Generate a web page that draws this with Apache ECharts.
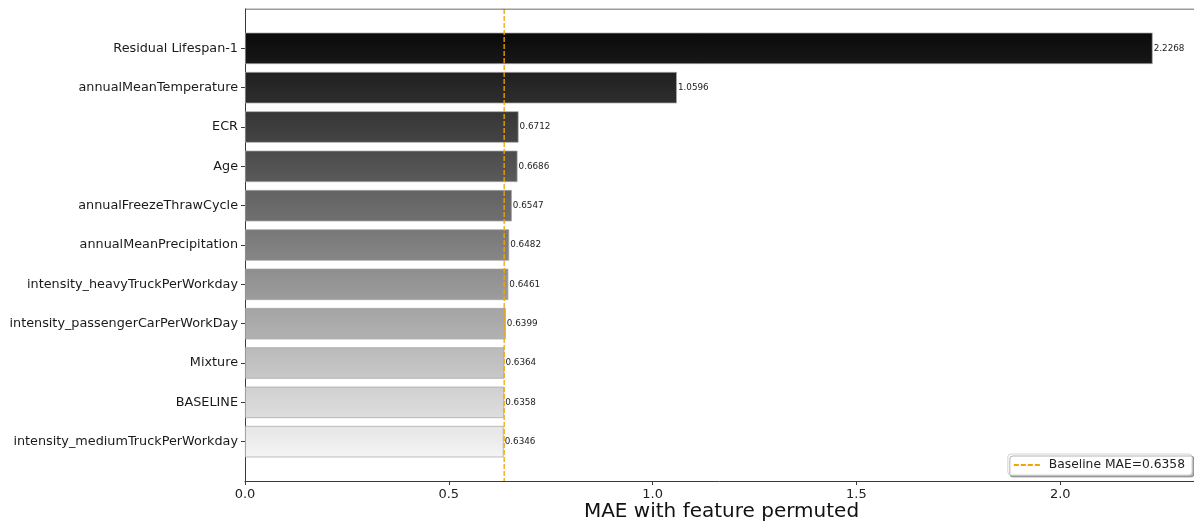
<!DOCTYPE html>
<html>
<head>
<meta charset="utf-8">
<title>Permutation importance (MAE)</title>
<script src="https://cdn.jsdelivr.net/npm/echarts@6/dist/echarts.min.js"></script>
<style>
  html, body { margin: 0; padding: 0; background: #fff; }
  #chart { width: 1194px; height: 527px; }
</style>
</head>
<body>
<div id="chart"></div>
<script>
// Features, ordered from the largest MAE (top) to the smallest (bottom)
const categories = [
  'Residual Lifespan-1',
  'annualMeanTemperature',
  'ECR',
  'Age',
  'annualFreezeThrawCycle',
  'annualMeanPrecipitation',
  'intensity_heavyTruckPerWorkday',
  'intensity_passengerCarPerWorkDay',
  'Mixture',
  'BASELINE',
  'intensity_mediumTruckPerWorkday'
];
// MAE with each feature permuted
const maeValues = [2.2268, 1.0596, 0.6712, 0.6686, 0.6547, 0.6482, 0.6461, 0.6399, 0.6364, 0.6358, 0.6346];
// Reference error of the unpermuted model
const baselineMae = 0.6358;
const xTicks = [0, 0.5, 1.0, 1.5, 2.0];

const FONT = 'DejaVu Sans';
const n = categories.length;
const X_MAX = 2.338;

// One empty slot above and below the bars leaves the padding around them
const axisCats = [''].concat(categories, ['']);
const barData = [null].concat(maeValues.map((v, i) => {
  // greyscale ramp from near-black at the top to near-white at the bottom
  const g = Math.round(18 + (238 - 18) * i / (n - 1));
  const top = Math.max(0, g - 8), bot = Math.min(255, g + 6);
  const c = x => 'rgb(' + x + ',' + x + ',' + x + ')';
  return {
    value: v,
    itemStyle: {
      color: new echarts.graphic.LinearGradient(0, 0, 0, 1, [
        { offset: 0, color: c(top) },
        { offset: 1, color: c(bot) }
      ])
    }
  };
}), [null]);

const chart = echarts.init(document.getElementById('chart'), null, { renderer: 'canvas' });

const axisColor = '#3a3a3a';
const baseColor = '#f2a400';
chart.setOption({
  animation: false,
  backgroundColor: '#fff',
  // the frame runs slightly past the right edge of the canvas
  grid: { left: 245, top: 9, width: 953, height: 472, containLabel: false, outerBoundsMode: 'none' },
  legend: {
    data: ['Baseline MAE=' + baselineMae],
    right: 2,
    bottom: 52,
    orient: 'vertical',
    itemWidth: 26,
    itemHeight: 12,
    itemGap: 0,
    padding: [5, 7, 4, 5],
    itemStyle: { color: 'transparent', borderWidth: 0 },
    backgroundColor: '#fff',
    borderColor: '#d4d4d4',
    borderWidth: 1,
    borderRadius: 3,
    shadowColor: 'rgba(0,0,0,0.3)',
    shadowOffsetX: 2,
    shadowOffsetY: 2,
    shadowBlur: 0,
    textStyle: { fontFamily: FONT, fontSize: 12.3, color: '#222', padding: [0, 0, 0, 4] }
  },
  xAxis: {
    type: 'value',
    min: 0,
    max: X_MAX,
    interval: 0.5,
    position: 'bottom',
    name: 'MAE with feature permuted',
    nameLocation: 'middle',
    nameGap: 31,
    nameMoveOverlap: false,
    nameTextStyle: { fontFamily: FONT, fontSize: 20, color: '#111', verticalAlign: 'middle' },
    axisLine: { show: true, lineStyle: { color: axisColor, width: 1 } },
    axisTick: { show: true, length: 4, lineStyle: { color: axisColor } },
    axisLabel: {
      fontFamily: FONT, fontSize: 13, color: '#222', margin: 7,
      showMaxLabel: false,
      formatter: v => xTicks.some(t => Math.abs(t - v) < 1e-9) ? v.toFixed(1) : ''
    },
    splitLine: { show: false }
  },
  yAxis: {
    type: 'category',
    inverse: true,
    data: axisCats,
    boundaryGap: false,
    axisLine: { show: true, lineStyle: { color: axisColor, width: 1 } },
    axisTick: {
      show: true, length: 4, lineStyle: { color: axisColor },
      interval: (idx) => idx > 0 && idx <= n
    },
    axisLabel: {
      fontFamily: FONT, fontSize: 12.8, color: '#1a1a1a', margin: 7,
      interval: 0
    },
    splitLine: { show: false }
  },
  series: [
    {
      type: 'bar',
      data: barData,
      barWidth: '80%',
      itemStyle: { borderColor: 'rgba(165,165,165,0.9)', borderWidth: 0.8 },
      label: {
        show: true,
        position: 'right',
        distance: 1,
        fontFamily: FONT,
        fontSize: 8.8,
        color: '#222',
        formatter: p => p.value == null ? '' : p.value.toFixed(4)
      },
      z: 2
    },
    {
      // vertical dashed reference line at the baseline MAE
      name: 'Baseline MAE=' + baselineMae,
      type: 'line',
      data: [[baselineMae, 0], [baselineMae, n + 1]],
      symbol: 'none',
      lineStyle: { color: baseColor, type: [5, 2], width: 1.3 },
      itemStyle: { color: baseColor },
      z: 5
    },
    {
      // top spine
      type: 'line',
      data: [[0, 0], [X_MAX, 0]],
      symbol: 'none',
      lineStyle: { color: axisColor, width: 1 },
      silent: true,
      z: 6
    }
  ]
});
</script>
</body>
</html>
